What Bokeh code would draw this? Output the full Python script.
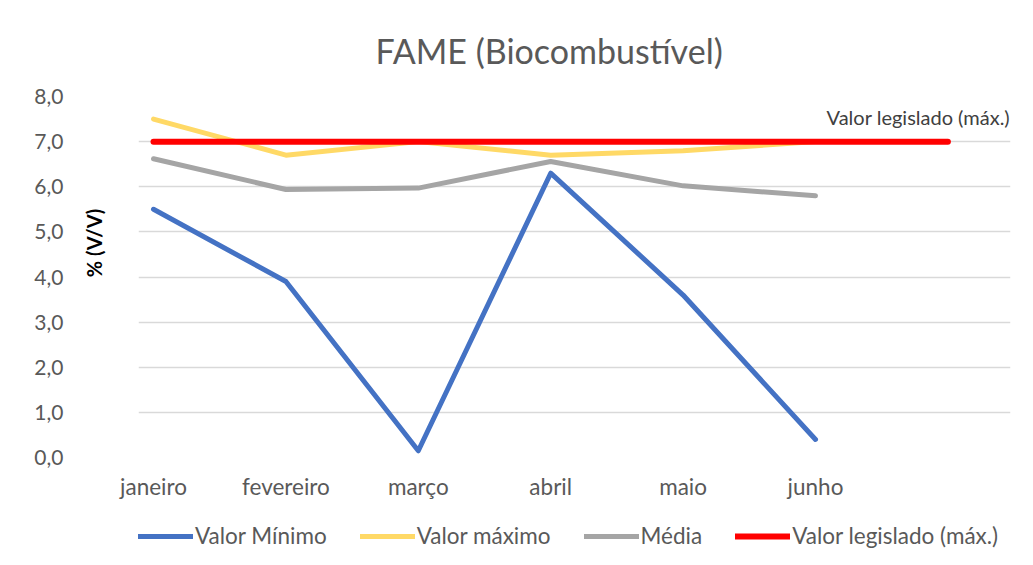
from bokeh.plotting import figure
from bokeh.models import Range1d, Label, Legend, LegendItem, FixedTicker, LinearAxis
from bokeh.layouts import column
from bokeh.embed import file_html
from bokeh.resources import INLINE

months = ["janeiro", "fevereiro", "março", "abril", "maio", "junho"]
valor_minimo = [5.5, 3.9, 0.15, 6.3, 3.6, 0.4]
valor_maximo = [7.5, 6.7, 7.0, 6.7, 6.8, 7.0]
media = [6.62, 5.94, 5.97, 6.56, 6.02, 5.8]
legislado = [7.0, 7.0, 7.0, 7.0, 7.0, 7.0, 7.0]
y_ticks = [0, 1, 2, 3, 4, 5, 6, 7, 8]
series_names = ["Valor Mínimo", "Valor máximo", "Média", "Valor legislado (máx.)"]
series_colors = ["#4472C4", "#FFD966", "#A5A5A5", "#FF0000"]

FONT = "Lato"
TXT = "#595959"

xs6 = list(range(len(months)))
xs7 = list(range(len(legislado)))
all_series = [(xs6, valor_minimo, 5), (xs6, valor_maximo, 5), (xs6, media, 5), (xs7, legislado, 6)]

p = figure(width=1017, height=520, output_backend="svg", toolbar_location=None,
           title="FAME (Biocombustível)", y_axis_location=None,
           x_range=Range1d(-0.1133, 6.4728), y_range=Range1d(0, 8),
           min_border_left=138, min_border_right=7, min_border_top=96, min_border_bottom=63)
p.outline_line_color = None
p.background_fill_color = "white"
p.border_fill_color = "white"

# title
p.title.text_font = FONT
p.title.text_font_size = "34px"
p.title.text_font_style = "normal"
p.title.text_color = TXT
p.title.align = "left"
p.title.offset = 237
p.title.standoff = 51

# x axis
p.xaxis.ticker = FixedTicker(ticks=xs6)
p.xaxis.major_label_overrides = {i: m for i, m in enumerate(months)}
p.xaxis.axis_line_color = None
p.xaxis.major_tick_line_color = None
p.xaxis.minor_tick_line_color = None
p.xaxis.major_tick_out = 0
p.xaxis.major_label_text_font = FONT
p.xaxis.major_label_text_color = TXT
p.xaxis.major_label_text_font_size = "22.5px"
p.xaxis.major_label_standoff = 15

# y axis: inner axis carries only the title, outer axis the tick labels
ylab = LinearAxis(ticker=FixedTicker(ticks=[]), axis_label="\u00a0" * 14 + "% (V/V)",
                  axis_label_standoff=33, axis_label_text_font=FONT,
                  axis_label_text_font_size="20px", axis_label_text_font_style="bold",
                  axis_label_text_color="#000000", axis_line_color=None,
                  major_tick_line_color=None, minor_tick_line_color=None,
                  major_tick_out=0, major_label_standoff=0)
p.add_layout(ylab, "left")
yax = LinearAxis(ticker=FixedTicker(ticks=y_ticks),
                 major_label_overrides={t: f"{t},0" for t in y_ticks},
                 axis_line_color=None, major_tick_line_color=None, minor_tick_line_color=None,
                 major_tick_out=0, major_label_standoff=15, major_label_text_font=FONT,
                 major_label_text_font_size="21px", major_label_text_color=TXT)
p.add_layout(yax, "left")

p.xgrid.grid_line_color = None
p.ygrid.grid_line_color = "#D9D9D9"
p.ygrid.grid_line_width = 1.5
p.ygrid.ticker = FixedTicker(ticks=y_ticks)

# series
for (xs, vals, lw), col in zip(all_series, series_colors):
    p.line(xs, vals, line_color=col, line_width=lw, line_cap="round", line_join="round")

# annotation
p.add_layout(Label(x=6.47, y=7.55, text="Valor legislado (máx.)", text_font=FONT,
                   text_font_size="20px", text_color="#404040", text_align="right", text_baseline="middle"))

# legend strip (its series lie outside its visible range; only the legend shows)
q = figure(width=1017, height=29, output_backend="svg", toolbar_location=None,
           x_axis_location=None, y_axis_location=None,
           x_range=Range1d(0, 1), y_range=Range1d(100, 101),
           min_border_left=0, min_border_right=0, min_border_top=0, min_border_bottom=0)
q.outline_line_color = None
q.xgrid.grid_line_color = None
q.ygrid.grid_line_color = None
items = []
for name, (xs, vals, lw), col in zip(series_names, all_series, series_colors):
    r = q.line(xs, vals, line_color=col, line_width=lw, line_cap="round")
    items.append(LegendItem(label=name, renderers=[r]))
legend = Legend(items=items, orientation="horizontal", location=(0, 0),
                label_text_font=FONT, label_text_font_size="22.5px", label_text_color=TXT,
                glyph_width=55, glyph_height=20, label_height=20, label_standoff=2,
                spacing=33, padding=0, margin=0, border_line_color=None,
                background_fill_alpha=0)
q.add_layout(legend, "center")

open("out.html", "w").write(file_html(column(p, q, spacing=0), INLINE))
